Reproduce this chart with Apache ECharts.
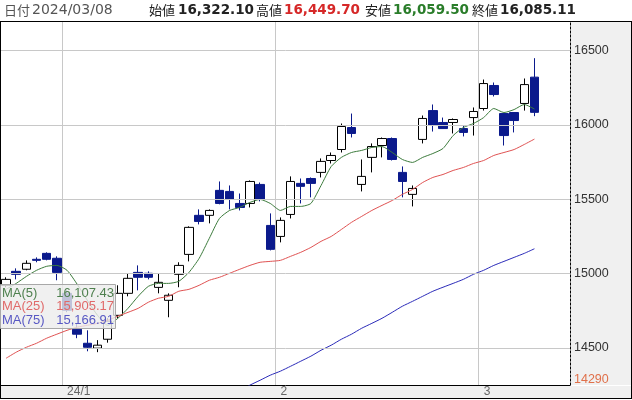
<!DOCTYPE html>
<html><head><meta charset="utf-8">
<script src="https://cdn.jsdelivr.net/npm/echarts@6/dist/echarts.min.js"></script>
<style>html,body{margin:0;padding:0;background:#fff}#c{width:632px;height:400px}</style>
</head><body><div id="c"></div>
<script>
const lastDate = '2024/03/08';
const categories = ['','','','','','','24/1','','','','','','','','','','','','','','','','','','','','','2','','','','','','','','','','','','','','','','','','','','3','','','','',''];
const opens  = [14921,15015,15029,15096,15136,15103,14867,14625,14531,14498,14558,14719,14867,15008,15002,14907,14820,14995,15129,15392,15392,15560,15553,15472,15472,15600,15324,15250,15398,15607,15640,15681,15761,15835,15983,15600,15782,15862,15909,15681,15533,15903,16097,16017,16017,15976,16050,16111,16266,16077,16084,16145,16322.10];
const closes = [14961,14995,15069,15089,15096,15008,14753,14592,14504,14518,14680,14867,14968,14975,14975,14941,14854,15055,15311,15351,15425,15472,15499,15445,15620,15499,15163,15358,15620,15587,15607,15755,15795,15990,15943,15654,15855,15909,15768,15620,15573,16044,15997,15976,16037,15950,16091,16279,16205,15929,16030,16272,16085.11];
const lows   = [14908,14961,15022,15076,15089,14955,14740,14565,14477,14471,14535,14699,14847,14887,14961,14867,14706,14908,15082,15331,15338,15466,15432,15425,15445,15486,15156,15210,15371,15472,15513,15647,15741,15815,15916,15553,15681,15782,15761,15513,15452,15876,15956,15976,15943,15923,15929,16097,16192,15862,15950,16097,16059.50];
const highs  = [14975,15035,15089,15109,15143,15116,14887,14660,14618,14552,14700,14921,15002,15055,15015,15002,14867,15076,15318,15432,15432,15620,15593,15539,15627,15613,15405,15378,15654,15640,15647,15775,15815,16010,16077,15768,15876,15916,15916,15721,15593,16064,16138,16050,16044,15997,16118,16306,16286,16077,16084,16313,16449.70];
const ma5  = [14894,14934,14981,15022,15049,15055,15022,14928,14820,14719,14652,14699,14766,14847,14914,14934,14934,14948,15008,15102,15237,15371,15425,15445,15479,15499,15472,15425,15452,15452,15472,15593,15721,15782,15815,15829,15849,15855,15815,15768,15748,15782,15808,15842,15929,15983,16010,16050,16111,16084,16104,16138,16107.43];
const ma25 = [14430,14471,14504,14531,14565,14592,14618,14639,14652,14665,14686,14713,14739,14766,14807,14834,14847,14881,14894,14921,14955,14975,15002,15029,15055,15076,15082,15089,15116,15143,15176,15217,15250,15297,15345,15385,15425,15459,15492,15533,15566,15613,15647,15667,15694,15714,15741,15761,15795,15815,15835,15869,15905.17];
const ma75 = ['-','-','-','-','-','-','-','-','-','-','-','-','-','-','-','-','-','-','-','-','-','-','-',14208,14249,14282,14316,14343,14376,14410,14444,14484,14518,14558,14592,14632,14665,14699,14739,14780,14813,14847,14881,14908,14934,14961,14995,15022,15055,15082,15109,15136,15166.91];
const yTicks = [14500,15000,15500,16000,16500];
const lowMark = 14290;
const maNames = ['MA(5)','MA(25)','MA(75)'];

const F = '"Liberation Sans", Arial, sans-serif';
const J = '"Noto Sans CJK JP", sans-serif';
const fmt = v => Number(v).toLocaleString('en-US',{minimumFractionDigits:2,maximumFractionDigits:2});
const ohlc = opens.map((o,i)=>[o, closes[i], lows[i], highs[i]]);
const n = opens.length - 1;
const maColors = ['#3c7b3c','#e05252','#2a2ab8'];
const maTextColors = ['#4f804f','#e06a6a','#5858c4'];
const maSeries = [ma5, ma25, ma75];

const chart = echarts.init(document.getElementById('c'), null, {renderer:'canvas'});

const legendEls = [{type:'rect', z:100, zlevel:1, shape:{x:0.5,y:284.5,width:115,height:44}, style:{fill:'rgba(236,236,236,0.8)', stroke:'#a8a8a8', lineWidth:1}}];
maNames.forEach((nm,k)=>{
  const yy = 293 + k*13.75;
  legendEls.push({type:'text', z:101, zlevel:1, x:2, y:yy, style:{text:nm, fill:maTextColors[k], font:'13px '+F, verticalAlign:'middle'}});
  legendEls.push({type:'text', z:101, zlevel:1, x:114, y:yy, style:{text:fmt(maSeries[k][n]), fill:maTextColors[k], font:'13px '+F, align:'right', verticalAlign:'middle'}});
});

const hdr = [
  {t:'始値', x:149, c:'#222'}, {t:fmt(opens[n]), x:178, c:'#222', b:true},
  {t:'高値', x:256, c:'#222'}, {t:fmt(highs[n]), x:284, c:'#d62828', b:true},
  {t:'安値', x:365, c:'#222'}, {t:fmt(lows[n]), x:393, c:'#2a7d2a', b:true},
  {t:'終値', x:472, c:'#222'}, {t:fmt(closes[n]), x:500, c:'#222', b:true}
].map(h=>({type:'text', x:h.x, y:10, style:{text:h.t, fill:h.c, verticalAlign:'middle',
  font: h.b ? 'bold 13.5px "DejaVu Sans", sans-serif' : '13px '+J}}));

chart.setOption({
  animation:false,
  backgroundColor:'#fff',
  grid:{left:1, right:62, top:21, bottom:15, containLabel:false},
  xAxis:{type:'category', data:categories, max:55, boundaryGap:true,
    axisLine:{show:true, lineStyle:{color:'#000', width:1}},
    axisTick:{show:false},
    axisLabel:{interval:0, formatter:v=>v||'', color:'#666', fontSize:12, fontFamily:F, align:'left', margin:1},
    splitLine:{show:true, interval:(i,v)=>!!v, lineStyle:{color:'#c8c8c8', width:1}}},
  yAxis:{type:'value', position:'right', min:14250, max:16700, scale:true,
    axisLine:{show:true, lineStyle:{color:'#000', type:[2,2], width:1}},
    axisLabel:{show:false}, axisTick:{show:false}, splitLine:{show:false}},
  series:[
    {type:'line', data:[], silent:true, z:1,
      markLine:{silent:true, symbol:'none', animation:false,
        lineStyle:{color:'#c8c8c8', width:1, type:'solid'},
        label:{position:'end', distance:4, color:'#333', fontSize:12.5, fontFamily:F, formatter:p=>String(p.value)},
        data:[...yTicks.map(v=>({yAxis:v})), {yAxis:lowMark, lineStyle:{color:'rgba(0,0,0,0)'}, label:{color:'#e0704a'}}]}},
    {type:'candlestick', data:ohlc, barWidth:9, z:2,
      itemStyle:{color:'#ffffff', color0:'#0b1a8c', borderColor:'#000000', borderColor0:'#0b1a8c', borderWidth:1}},
    ...maSeries.map((d,k)=>({type:'line', data:d, showSymbol:false, smooth:0.2, z:3, silent:true,
      lineStyle:{width:1, color:maColors[k]}}))
  ],
  graphic:[
    {type:'rect', z:-1, shape:{x:570,y:21,width:62,height:364}, style:{fill:'#f0f0f0'}},
    {type:'rect', z:-1, shape:{x:0,y:386,width:632,height:12}, style:{fill:'#f0f0f0'}},
    {type:'line', z:10, shape:{x1:0,y1:21.5,x2:632,y2:21.5}, style:{stroke:'#000', lineWidth:1}},
    {type:'line', z:10, shape:{x1:0,y1:398.5,x2:632,y2:398.5}, style:{stroke:'#000', lineWidth:1}},
    {type:'line', z:10, shape:{x1:0.5,y1:21,x2:0.5,y2:399}, style:{stroke:'#000', lineWidth:1}},
    {type:'line', z:10, shape:{x1:631.5,y1:21,x2:631.5,y2:399}, style:{stroke:'#000', lineWidth:1}},
    {type:'text', x:4, y:10, style:{text:'日付', fill:'#555', font:'13px '+J, verticalAlign:'middle'}},
    {type:'text', x:32, y:10, style:{text:lastDate, fill:'#555', font:'14px "DejaVu Sans", sans-serif', verticalAlign:'middle'}},
    ...hdr,
    ...legendEls
  ]
});
</script></body></html>
